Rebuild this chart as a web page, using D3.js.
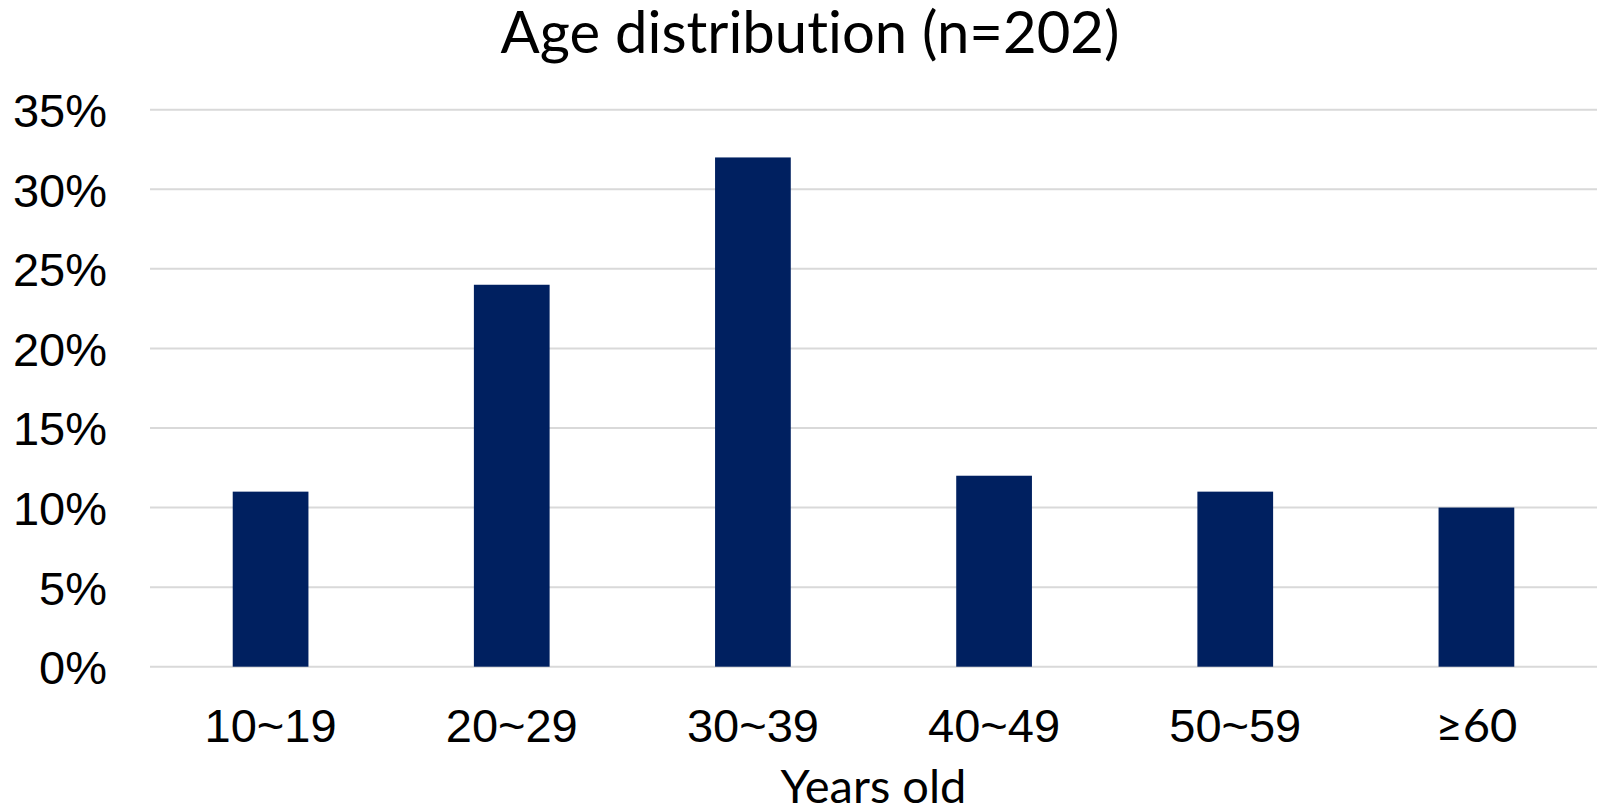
<!DOCTYPE html>
<html>
<head>
<meta charset="utf-8">
<script src="https://cdn.jsdelivr.net/npm/d3@7"></script>
<style>
  html, body { margin: 0; padding: 0; background: #fff; }
  svg { display: block; }
  text { font-variant-ligatures: none; font-feature-settings: "liga" 0, "clig" 0; }
</style>
</head>
<body>
<svg id="chart" width="1597" height="810"></svg>
<script>
// Age groups and share of respondents (%)
const categories = ["10~19", "20~29", "30~39", "40~49", "50~59", "≥60"];
const shares = [11, 24, 32, 12, 11, 10];
const yTicks = [0, 5, 10, 15, 20, 25, 30, 35];
const titleText = "Age distribution (n=202)";
const xAxisTitle = "Years old";

const W = 1597, H = 810;
const plot = { left: 150, right: 1597, top: 109.7, bottom: 666.7 };

const svg = d3.select("#chart");

const x = d3.scaleBand()
  .domain(categories)
  .range([plot.left, plot.right])
  .paddingInner(0.686)
  .paddingOuter(0.343);

const y = d3.scaleLinear()
  .domain([0, 35])
  .range([plot.bottom, plot.top]);

// Horizontal gridlines
svg.append("g")
  .selectAll("line")
  .data(yTicks)
  .join("line")
  .attr("x1", plot.left)
  .attr("x2", plot.right)
  .attr("y1", d => y(d))
  .attr("y2", d => y(d))
  .attr("stroke", "#d9d9d9")
  .attr("stroke-width", 2);

// Bars
svg.append("g")
  .selectAll("rect")
  .data(categories)
  .join("rect")
  .attr("x", d => x(d))
  .attr("width", x.bandwidth())
  .attr("y", (d, i) => y(shares[i]))
  .attr("height", (d, i) => y(0) - y(shares[i]))
  .attr("fill", "#002060");

// Y axis labels
const yAxis = d3.axisLeft(y)
  .tickValues(yTicks)
  .tickFormat(d => d + "%")
  .tickSize(0)
  .tickPadding(0);
const yg = svg.append("g")
  .attr("transform", `translate(${107},0)`)
  .call(yAxis);
yg.select(".domain").remove();
yg.selectAll("text")
  .attr("font-family", "'Liberation Sans', Arial, sans-serif")
  .attr("font-size", 47)
  .attr("fill", "#000")
  .attr("dy", "0.36em");

// X axis labels
const xAxis = d3.axisBottom(x).tickSize(0).tickPadding(0);
const xg = svg.append("g")
  .attr("transform", `translate(0,${741.5})`)
  .call(xAxis);
xg.select(".domain").remove();
xg.selectAll("text")
  .attr("dy", 0)
  .attr("font-family", d => d.startsWith("≥") ? "Lato, sans-serif" : "'Liberation Sans', Arial, sans-serif")
  .attr("font-size", 47)
  .attr("fill", "#000");

// Chart title
svg.append("text")
  .attr("x", 810)
  .attr("y", 53)
  .attr("text-anchor", "middle")
  .attr("font-family", "Lato, sans-serif")
  .attr("font-size", 58)
  .attr("fill", "#000")
  .text(titleText);

// Axis title
svg.append("text")
  .attr("x", (plot.left + plot.right) / 2)
  .attr("y", 803)
  .attr("text-anchor", "middle")
  .attr("font-family", "Lato, sans-serif")
  .attr("font-size", 47)
  .attr("fill", "#000")
  .text(xAxisTitle);
</script>
</body>
</html>
